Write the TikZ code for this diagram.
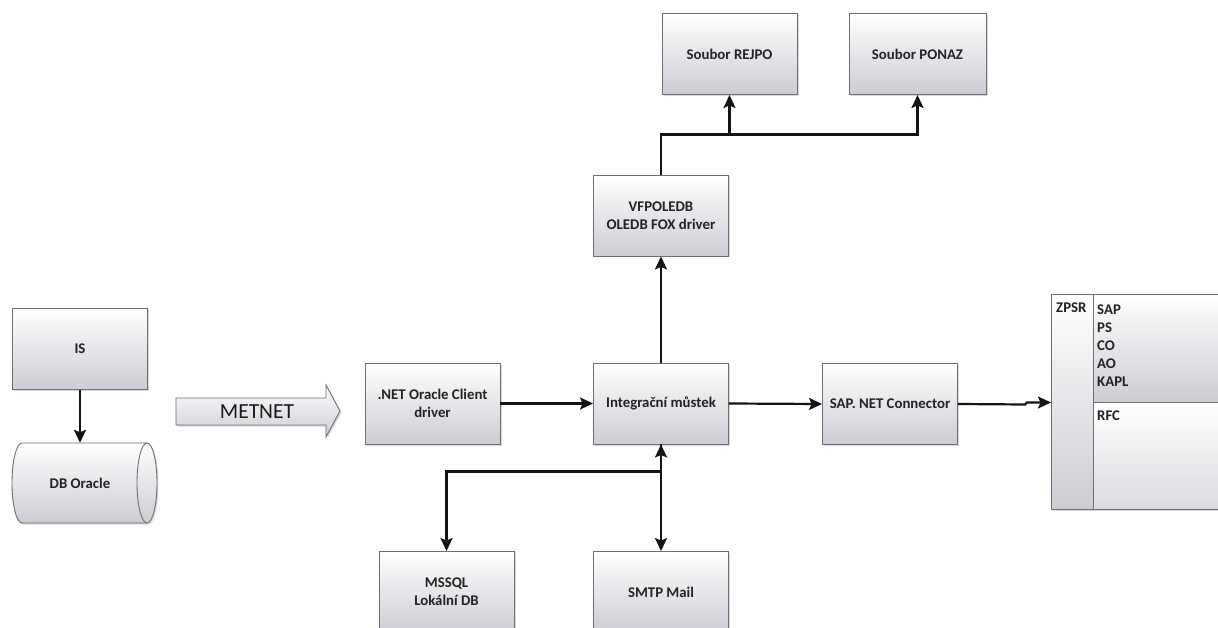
\documentclass[tikz,border=0pt]{standalone}
\usepackage{fontspec}
\newfontfamily\carlito{Carlito}
\usetikzlibrary{arrows.meta,shadows,calc}
\definecolor{boxborder}{RGB}{110,110,115}
\definecolor{boxfill}{RGB}{204,204,212}
\definecolor{textc}{RGB}{35,35,35}
\definecolor{linec}{RGB}{20,20,20}
\newcommand\lbl{\carlito\bfseries\fontsize{14.8}{18}\selectfont}
\tikzset{
  box/.style={draw=boxborder, line width=0.9pt, top color=white, bottom color=boxfill,
    minimum width=135pt, minimum height=81pt, align=center, font=\lbl, text=textc,
    inner sep=2pt, drop shadow={shadow xshift=1.5pt, shadow yshift=-1.5pt, opacity=0.3}},
  conn/.style={draw=linec, line width=2.2pt},
  tip/.style={},
  arr/.style={conn, -{Stealth[length=13pt,width=12pt,inset=2.5pt]}},
  barr/.style={conn, {Stealth[length=13pt,width=12pt,inset=2.5pt]}-{Stealth[length=13pt,width=12pt,inset=2.5pt]}},
  plain/.style={font=\lbl, text=textc, inner sep=0pt, anchor=west},
}
\begin{document}
\begin{tikzpicture}[x=1pt,y=1pt]
\useasboundingbox[fill=white] (0,0) rectangle (1218,-628);

% boxes
\node[box] (is) at (80,-349) {IS};
\node[box] (net) at (432.5,-403.5) {.NET Oracle Client\\driver};
\node[box] (integ) at (661,-403.5) {Integrační můstek};
\node[box] (sap) at (890,-404) {SAP. NET Connector};
\node[box] (vfp) at (661,-215.5) {VFPOLEDB\\OLEDB FOX driver};
\node[box] (rejpo) at (729.5,-54) {Soubor REJPO};
\node[box, minimum width=137pt] (ponaz) at (917.5,-54) {Soubor PONAZ};
\node[box] (mssql) at (446.5,-592) {MSSQL\\Lokální DB};
\node[box] (smtp) at (661,-592) {SMTP Mail};

% DB Oracle cylinder
\fill[gray, opacity=0.3] (23.5,-444.5) -- (148.5,-444.5) arc[start angle=90,end angle=-90,x radius=10,y radius=40] -- (23.5,-524.5) arc[start angle=270,end angle=90,x radius=10,y radius=40] -- cycle;
\shade[top color=white, bottom color=boxfill] (22,-443) -- (147,-443) arc[start angle=90,end angle=-90,x radius=10,y radius=40] -- (22,-523) arc[start angle=270,end angle=90,x radius=10,y radius=40] -- cycle;
\draw[boxborder, line width=0.9pt] (22,-443) -- (147,-443) arc[start angle=90,end angle=-90,x radius=10,y radius=40] -- (22,-523) arc[start angle=270,end angle=90,x radius=10,y radius=40] -- cycle;
\draw[boxborder, line width=0.9pt] (147,-443) arc[start angle=90,end angle=270,x radius=10,y radius=40];
\node[font=\lbl, text=textc, minimum width=125pt, minimum height=80pt, inner sep=0pt] (db) at (80,-483) {DB Oracle};

% METNET arrow
\fill[gray, opacity=0.3] (177.5,-399.5) -- (327.5,-399.5) -- (327.5,-386.5) -- (341.5,-412.5) -- (327.5,-438.5) -- (327.5,-426.5) -- (177.5,-426.5) -- cycle;
\shade[top color=white, bottom color=boxfill, draw=boxborder, line width=0.9pt]
  (176,-398) -- (326,-398) -- (326,-385) -- (340,-411) -- (326,-437) -- (326,-425) -- (176,-425) -- cycle;
\node[font=\carlito\fontsize{21.5}{24}\selectfont, text=black!90] (metnet) at (257,-411.5) {METNET};

% ZPSR block
\fill[gray, opacity=0.3] (1052.5,-295.5) rectangle (1230,-510.5);
\shade[top color=white, bottom color=boxfill] (1051,-294) rectangle (1093,-509);
\shade[top color=white, bottom color=boxfill] (1093,-294) rectangle (1230,-402);
\shade[top color=white, bottom color=boxfill!70!white] (1093,-402) rectangle (1230,-509);
\node[draw=boxborder, line width=0.9pt, minimum width=179pt, minimum height=215pt, anchor=north west, inner sep=0pt] (zpsr) at (1051,-294) {};
\draw[boxborder, line width=0.9pt] (1093,-294) -- (1093,-509);
\draw[boxborder, line width=0.9pt] (1093,-402) -- (1230,-402);
\node[plain] (zl) at (1056,-308) {ZPSR};
\node[plain, anchor=north west, align=left, font=\carlito\bfseries\fontsize{14.8}{17.9}\selectfont] (mods) at (1097,-305) {SAP\\PS\\CO\\AO\\KAPL};
\node[plain] (rfc) at (1097,-416) {RFC};

% connectors
\draw[arr] (is.south) -- (is.south |- db.north);
\draw[arr] (net.east) -- (integ.west);
\draw[arr] (integ.east) -- (sap.west);
\draw[arr] (integ.north) -- (vfp.south);
\draw[arr] (vfp.north) -- ++(0,40) -| (rejpo.south);
\draw[arr] (vfp.north) -- ++(0,40) -| (ponaz.south);
\draw[barr] (integ.south) -- (smtp.north);
\draw[arr] (integ.south) -- ++(0,-27) -| (mssql.north);
\coordinate (jog) at (1025,-404.5);
\draw[arr] (sap.east) -- (jog) -- ++(2,2) -- (zpsr.west |- 0,-402.5);
\end{tikzpicture}
\end{document}
